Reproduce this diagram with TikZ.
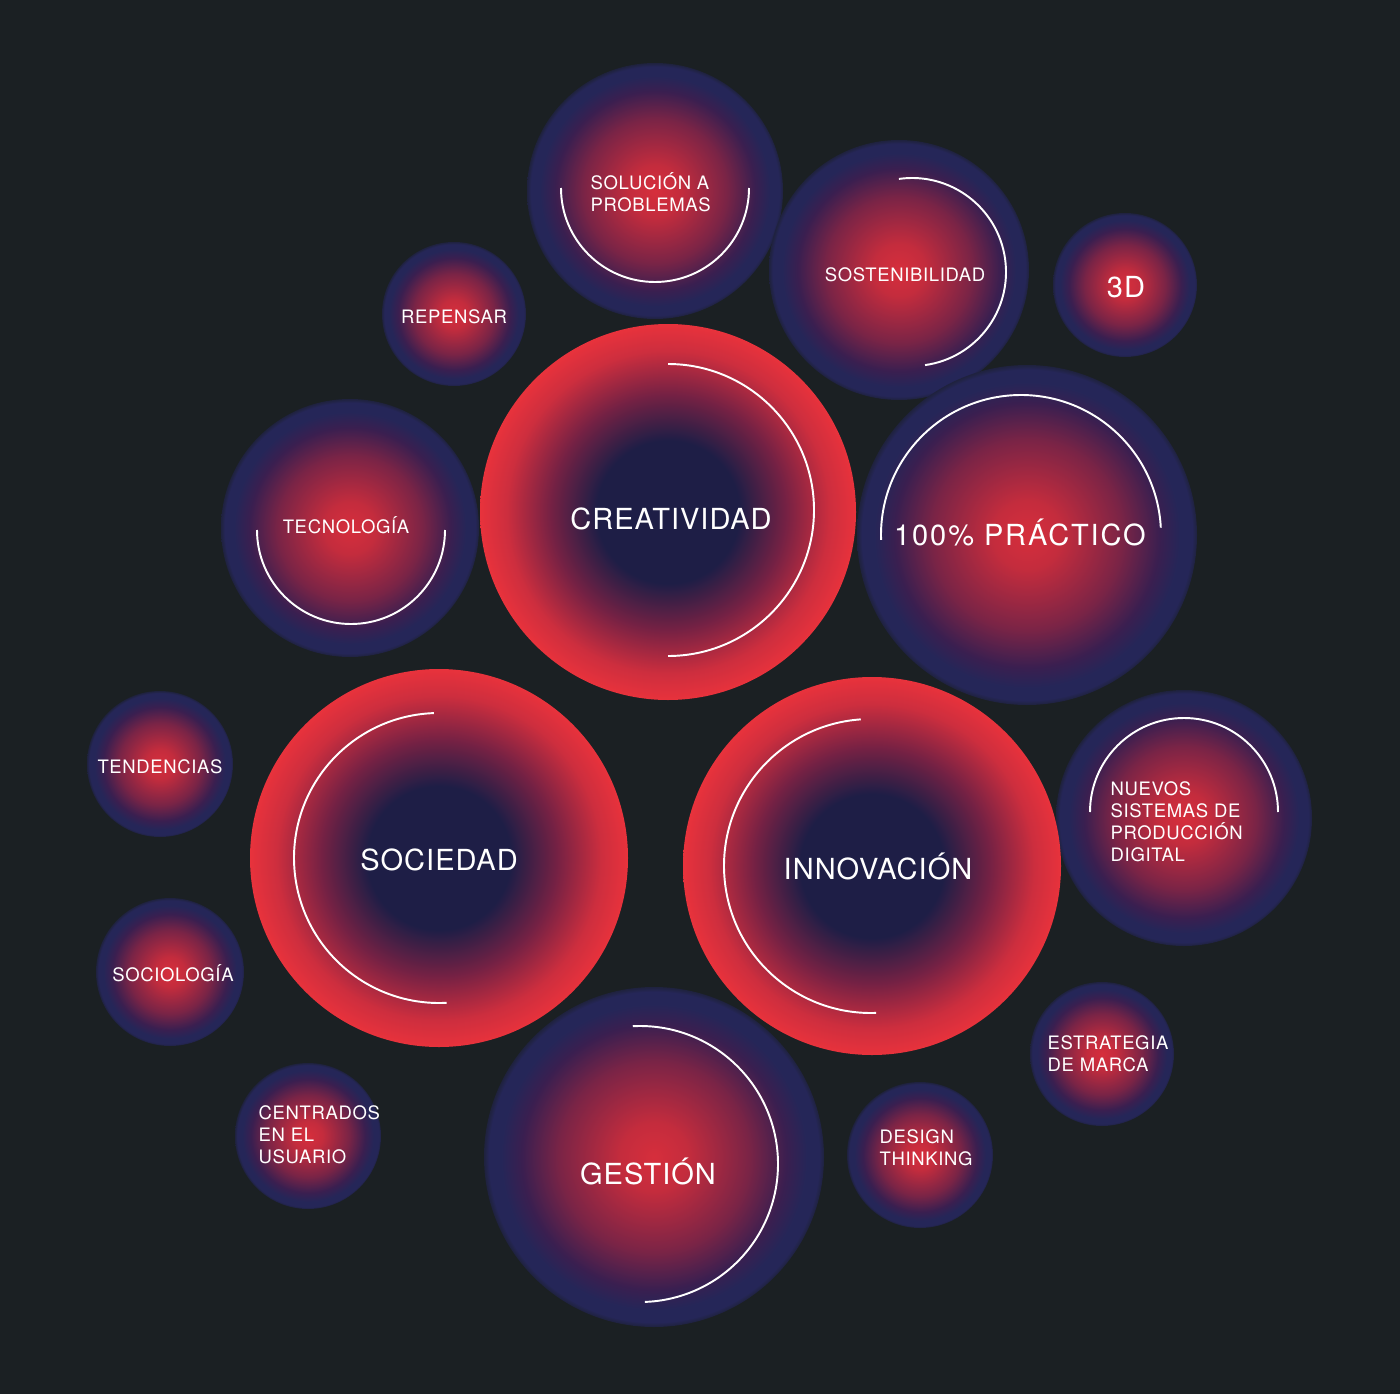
\documentclass[tikz,border=0pt]{standalone}
\usepackage{fontspec}
\setmainfont{TeX Gyre Heros}
\newfontfamily\labelfont[LetterSpace=3.5]{TeX Gyre Heros}
\newfontfamily\widelabelfont[LetterSpace=6.5]{TeX Gyre Heros}
\newcommand\bigsize{\fontsize{8.25}{9.5}\selectfont}
\newcommand\smallsize{\fontsize{5.26}{6.26}\selectfont}

\definecolor{bgdark}{RGB}{27,32,35}
\definecolor{glowred}{RGB}{214,46,60}
\definecolor{glowredb}{RGB}{196,44,61}
\definecolor{glowplum}{RGB}{122,36,70}
\definecolor{glowviolet}{RGB}{58,31,80}
\definecolor{glowrim}{RGB}{37,38,88}
\definecolor{glowedge}{RGB}{31,34,62}
\definecolor{corenavy}{RGB}{30,30,70}
\definecolor{coremaroon}{RGB}{115,33,68}
\definecolor{corered}{RGB}{205,46,62}
\definecolor{rimred}{RGB}{232,50,60}

\pgfdeclareradialshading{navyglow}{\pgfpoint{0bp}{0bp}}{color(0bp)=(glowred); color(5bp)=(glowredb); color(14bp)=(glowplum); color(19.5bp)=(glowviolet); color(22.5bp)=(glowrim); color(24.3bp)=(glowrim); color(25bp)=(glowedge); color(50bp)=(glowedge)}
\pgfdeclareradialshading{redglow}{\pgfpoint{0bp}{0bp}}{color(0bp)=(corenavy); color(9.5bp)=(corenavy); color(15.5bp)=(coremaroon); color(21.5bp)=(corered); color(25bp)=(rimred); color(50bp)=(rimred)}

\tikzset{
  navybubble/.style={shading=navyglow},
  redbubble/.style={shading=redglow},
  ring/.style={white, line width=0.55pt},
  bigtxt/.style={font=\labelfont\bigsize, text=white, inner sep=0pt, text height=5.9pt, text depth=0pt},
  smalltxt/.style={font=\labelfont\smallsize, text=white, inner sep=0pt, text height=3.8pt, text depth=0pt},
  listtxt/.style={font=\labelfont\smallsize, text=white, inner sep=0pt, align=left, anchor=west}
}

\begin{document}
\begin{tikzpicture}[x=0.01cm, y=-0.01cm]
\useasboundingbox (0,0) rectangle (1400,1394);
\fill[bgdark] (0,0) rectangle (1400,1394);

\shade[navybubble] (655,191) circle (128);
\shade[navybubble] (899,270) circle (130);
\shade[navybubble] (1125,285) circle (72);
\shade[navybubble] (454,314) circle (72);
\shade[navybubble] (1027,535) circle (170);
\shade[navybubble] (350,528) circle (129);
\shade[navybubble] (160,764) circle (73);
\shade[navybubble] (1184,818) circle (128);
\shade[navybubble] (170,972) circle (74);
\shade[navybubble] (1102,1054) circle (72);
\shade[navybubble] (308,1136) circle (73);
\shade[navybubble] (920,1155) circle (73);
\shade[navybubble] (654,1157) circle (170);

\shade[redbubble] (668,512) circle (188);
\shade[redbubble] (439,858) circle (189);
\shade[redbubble] (872,866) circle (189);

\draw[ring] (655,188) ++(180:94) arc[start angle=180, end angle=0, radius=94];
\draw[ring] (912,272) ++(-98:94) arc[start angle=-98, end angle=82, radius=94];
\draw[ring] (668,510) ++(-90:146) arc[start angle=-90, end angle=90, radius=146];
\draw[ring] (1021,535) ++(178:140) arc[start angle=178, end angle=357, radius=140];
\draw[ring] (351,530) ++(180:94) arc[start angle=180, end angle=0, radius=94];
\draw[ring] (439,858) ++(268:145) arc[start angle=268, end angle=87, radius=145];
\draw[ring] (871,866) ++(266:147) arc[start angle=266, end angle=88, radius=147];
\draw[ring] (1184,812) ++(180:94) arc[start angle=180, end angle=360, radius=94];
\draw[ring] (640,1164) ++(-93:138) arc[start angle=-93, end angle=88, radius=138];

\node[listtxt] (solucion) at (590,192) {SOLUCIÓN A\\PROBLEMAS};
\node[smalltxt] (sostenibilidad) at (905,275) {SOSTENIBILIDAD};
\node[bigtxt] (tresd) at (1126,287) {3D};
\node[smalltxt] (repensar) at (454,317) {REPENSAR};
\node[bigtxt] (creatividad) at (671,519) {CREATIVIDAD};
\node[bigtxt, font=\widelabelfont\bigsize] (practico) at (1020,535) {100\% PRÁCTICO};
\node[smalltxt] (tecnologia) at (346,527) {TECNOLOGÍA};
\node[smalltxt] (tendencias) at (160,767) {TENDENCIAS};
\node[bigtxt] (sociedad) at (439,860) {SOCIEDAD};
\node[bigtxt] (innovacion) at (878,869) {INNOVACIÓN};
\node[listtxt] (nuevos) at (1110,822) {NUEVOS\\SISTEMAS DE\\PRODUCCIÓN\\DIGITAL};
\node[smalltxt] (sociologia) at (173,975) {SOCIOLOGÍA};
\node[listtxt] (estrategia) at (1047,1054) {ESTRATEGIA\\DE MARCA};
\node[listtxt] (centrados) at (258,1135) {CENTRADOS\\EN EL\\USUARIO};
\node[listtxt] (design) at (879,1148) {DESIGN\\THINKING};
\node[bigtxt] (gestion) at (648,1174) {GESTIÓN};
\end{tikzpicture}
\end{document}
